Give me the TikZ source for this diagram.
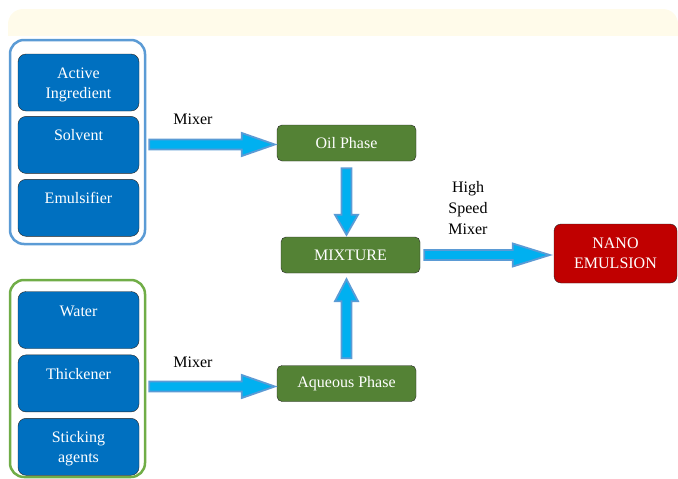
\documentclass[tikz,border=0pt]{standalone}
\usepackage{fontspec}
\setmainfont{Liberation Serif}
\usetikzlibrary{positioning,calc}

\definecolor{cream}{HTML}{FFFBEA}
\definecolor{inblue}{HTML}{0070C0}
\definecolor{frblue}{HTML}{5B9BD5}
\definecolor{frgreen}{HTML}{70AD47}
\definecolor{phgreen}{HTML}{548235}
\definecolor{nanored}{HTML}{C00000}
\definecolor{boxline}{HTML}{262626}
\definecolor{arrfill}{HTML}{00B0F0}

% text sitting at the top of the ingredient boxes
\newcommand\topbox[1]{\parbox[c][36pt][t]{118pt}{\centering\strut #1}}
% fat arrow between two points, optional head length
\newcommand\blockarrow[3][26]{%
  \coordinate (ba-s) at #2;
  \coordinate (ba-e) at #3;
  \coordinate (ba-h) at ($(ba-e)!#1pt!(ba-s)$);
  \draw[flow] ($(ba-s)!5pt!90:(ba-e)$) -- ($(ba-h)!5pt!-90:(ba-s)$)
    -- ($(ba-h)!11.5pt!-90:(ba-s)$) -- (ba-e)
    -- ($(ba-h)!11.5pt!90:(ba-s)$) -- ($(ba-h)!5pt!90:(ba-s)$)
    -- ($(ba-s)!5pt!-90:(ba-e)$) -- cycle;}

\begin{document}
\begin{tikzpicture}[x=1pt,y=-1pt,
  font=\fontsize{16}{20}\selectfont,
  ingredient/.style={draw=boxline,fill=inblue,text=white,rounded corners=8pt,
    minimum width=121pt,minimum height=57pt,inner sep=0pt},
  group/.style={line width=2.5pt,rounded corners=14pt,minimum width=135pt},
  phase/.style={draw=boxline,fill=phgreen,text=white,rounded corners=5pt,
    minimum width=139pt,minimum height=36pt,inner sep=0pt},
  product/.style={phase,fill=nanored,minimum width=123pt,minimum height=59pt,
    align=center,rounded corners=7pt},
  flow/.style={draw=frblue,fill=arrfill,line width=1.8pt},
  every node/.style={align=center}]

  \useasboundingbox (0,0) rectangle (678,479);
  \fill[cream,rounded corners=15pt] (8,9) rectangle (678,60);
  \fill[white] (8,36) rectangle (678,61);

  % oil side
  \node[ingredient] (active) at (78.5,82.5) {\topbox{Active\\Ingredient}};
  \node[ingredient,below=5pt of active] (solvent) {\topbox{Solvent}};
  \node[ingredient,below=5.5pt of solvent] (emuls) {\topbox{Emulsifier}};
  \node[group,draw=frblue,minimum height=204pt] (oilgrp) at (77.5,142) {};

  % water side
  \node[ingredient] (water) at (78.5,320) {\topbox{Water}};
  \node[ingredient,below=6pt of water] (thick) {\topbox{Thickener}};
  \node[ingredient,below=6pt of thick] (sticking) {\topbox{Sticking\\agents}};
  \node[group,draw=frgreen,minimum height=197pt] (aqgrp) at (77.5,378.5) {};

  % phases
  \node[phase] (oil) at (346.5,143) {Oil Phase};
  \node[phase] (mix) at (350.5,255) {MIXTURE};
  \node[phase] (aqu) at (346.5,383.5) {Aqueous Phase};
  \node[product] (nano) at (615.5,253.5) {NANO\\EMULSION};

  % labels
  \node (mixlbl1) at (193,119) {Mixer};
  \node (mixlbl2) at (193,362) {Mixer};
  \node[font=\fontsize{16}{21}\selectfont] (hsmlbl) at (468,208) {High\\Speed\\Mixer};

  % arrows
  \blockarrow[33]{($(oilgrp.east |- oil.west)+(3,1.5)$)}{($(oil.west)+(-2,1.5)$)}
  \blockarrow[33]{($(aqgrp.east |- aqu.west)+(3,3)$)}{($(aqu.west)+(-2,3)$)}
  \blockarrow[20]{($(oil.south)+(0,7)$)}{($(oil.south |- mix.north)+(0,-2)$)}
  \blockarrow[22]{($(aqu.north)+(0,-7)$)}{($(aqu.north |- mix.south)+(0,6)$)}
  \blockarrow[37]{($(mix.east)+(4,0)$)}{($(nano.west |- mix.east)+(-4,0)$)}

\end{tikzpicture}
\end{document}
